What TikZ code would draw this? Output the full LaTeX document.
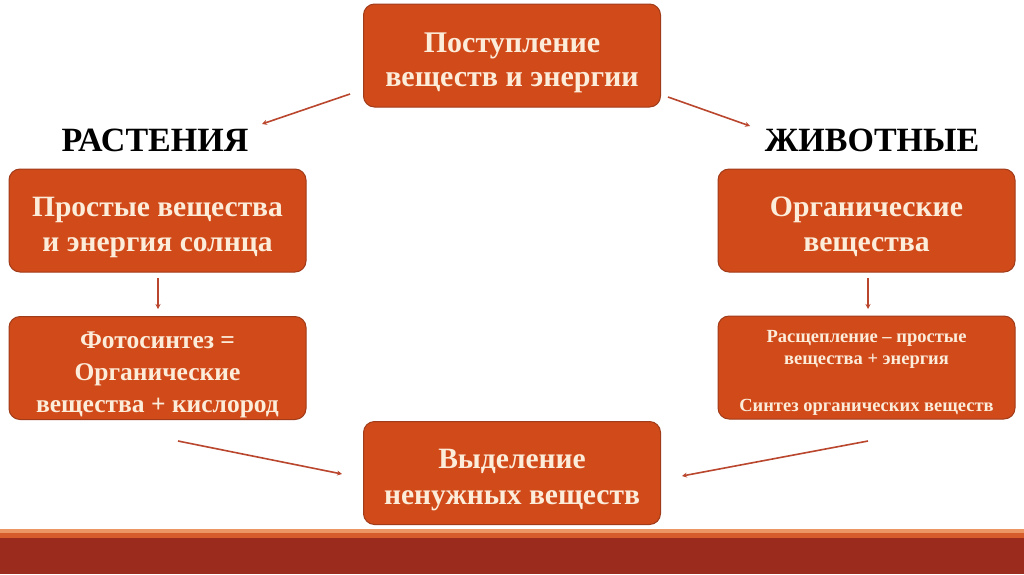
\documentclass[tikz,border=0pt]{standalone}
\usepackage{fontspec}
\setmainfont{Liberation Serif}
\usetikzlibrary{arrows.meta}
\definecolor{boxfill}{RGB}{208,74,26}
\definecolor{boxline}{RGB}{160,60,25}
\definecolor{boxtext}{RGB}{252,236,218}
\definecolor{arrowc}{RGB}{185,70,45}
\definecolor{barlight}{RGB}{236,150,100}
\definecolor{barmid}{RGB}{214,92,44}
\definecolor{bardark}{RGB}{154,43,29}
\tikzset{
  box/.style={draw=boxline, line width=1pt, fill=boxfill, rounded corners=11pt,
    minimum width=297pt, minimum height=103pt, inner sep=0pt},
  txt/.style={text=boxtext, align=center, inner sep=0pt},
  arr/.style={draw=arrowc, line width=1.6pt, -{Stealth[length=5pt,width=5pt]}},
  head/.style={font=\bfseries\fontsize{34}{36}\selectfont, text=black}
}
\begin{document}
\begin{tikzpicture}[x=1pt,y=-1pt]
\useasboundingbox (0,0) rectangle (1024,574);
\fill[white] (0,0) rectangle (1024,574);
% bottom bar
\fill[barlight] (0,529) rectangle (1024,533);
\fill[barmid] (0,533) rectangle (1024,538);
\fill[bardark] (0,538) rectangle (1024,574);

\node[box] (top) at (512,55.5) {};
\node[box] (l1) at (157.5,220.5) {};
\node[box] (l2) at (157.5,368) {};
\node[box] (r1) at (866.5,220.5) {};
\node[box] (r2) at (866.5,367.5) {};
\node[box] (bot) at (512,473) {};

\node[txt, font=\bfseries\fontsize{30}{34}\selectfont, yshift=-7pt] (toptext) at (top.center) {Поступление\\веществ и энергии};
\node[txt, font=\bfseries\fontsize{29.5}{35}\selectfont, yshift=-7pt] (l1text) at (l1.center) {Простые вещества\\и энергия солнца};
\node[txt, font=\bfseries\fontsize{25.5}{32}\selectfont, yshift=-7pt] (l2text) at (l2.center) {Фотосинтез =\\Органические\\вещества + кислород};
\node[txt, font=\bfseries\fontsize{29.7}{35}\selectfont, yshift=-6pt] (r1text) at (r1.center) {Органические\\вещества};
\node[txt, font=\bfseries\fontsize{18.5}{22}\selectfont, yshift=-5pt] (r2text) at (r2.center) {Расщепление – простые\\вещества + энергия\\[25pt]Синтез органических веществ};
\node[txt, font=\bfseries\fontsize{29.5}{36}\selectfont, yshift=-7pt] (bottext) at (bot.center) {Выделение\\ненужных веществ};

\node[head] (plants) at (155,140) {РАСТЕНИЯ};
\node[head] (animals) at (872,140) {ЖИВОТНЫЕ};

\coordinate (a1s) at (350,94); \coordinate (a1e) at (262,124);
\coordinate (a2s) at (668,97); \coordinate (a2e) at (750,126);
\coordinate (a3s) at (158,278); \coordinate (a3e) at (158,309);
\coordinate (a4s) at (868,278); \coordinate (a4e) at (868,309);
\coordinate (a5s) at (178,441); \coordinate (a5e) at (342,474);
\coordinate (a6s) at (868,441); \coordinate (a6e) at (682,476);
\draw[arr] (a1s) -- (a1e);
\draw[arr] (a2s) -- (a2e);
\draw[arr] (a3s) -- (a3e);
\draw[arr] (a4s) -- (a4e);
\draw[arr] (a5s) -- (a5e);
\draw[arr] (a6s) -- (a6e);
\end{tikzpicture}
\end{document}
